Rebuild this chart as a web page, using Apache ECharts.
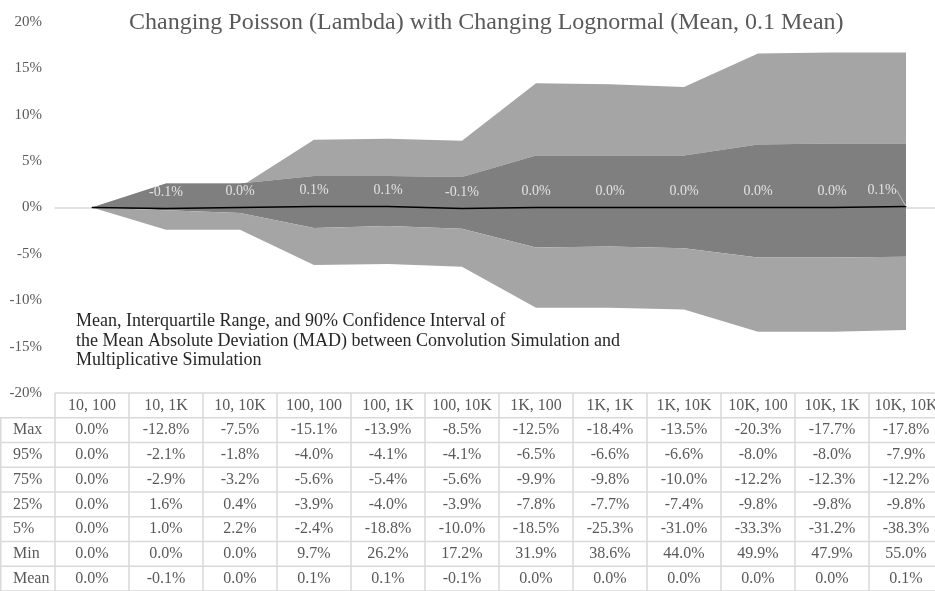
<!DOCTYPE html>
<html>
<head>
<meta charset="utf-8">
<title>Changing Poisson with Changing Lognormal</title>
<script src="https://cdn.jsdelivr.net/npm/echarts@6/dist/echarts.min.js"></script>
<style>
    html, body { margin: 0; padding: 0; background: #fff; overflow: hidden; }
    /* wider than the window: the last table column runs off the right edge */
    #chart { width: 950px; height: 591px; }
</style>
</head>
<body>
<div id="chart"></div>
<script>
var categories = ['10, 100', '10, 1K', '10, 10K', '100, 100', '100, 1K', '100, 10K', '1K, 100', '1K, 1K', '1K, 10K', '10K, 100', '10K, 1K', '10K, 10K'];
// rows of the data table (percent), same order as in the table
var rowNames = ['Max', '95%', '75%', '25%', '5%', 'Min', 'Mean'];
var maxRow = [0.0, -12.8, -7.5, -15.1, -13.9, -8.5, -12.5, -18.4, -13.5, -20.3, -17.7, -17.8];
var p95Row = [0.0, -2.1, -1.8, -4.0, -4.1, -4.1, -6.5, -6.6, -6.6, -8.0, -8.0, -7.9];
var p75Row = [0.0, -2.9, -3.2, -5.6, -5.4, -5.6, -9.9, -9.8, -10.0, -12.2, -12.3, -12.2];
var p25Row = [0.0, 1.6, 0.4, -3.9, -4.0, -3.9, -7.8, -7.7, -7.4, -9.8, -9.8, -9.8];
var p5Row = [0.0, 1.0, 2.2, -2.4, -18.8, -10.0, -18.5, -25.3, -31.0, -33.3, -31.2, -38.3];
var minRow = [0.0, 0.0, 0.0, 9.7, 26.2, 17.2, 31.9, 38.6, 44.0, 49.9, 47.9, 55.0];
var meanRow = [0.0, -0.1, 0.0, 0.1, 0.1, -0.1, 0.0, 0.0, 0.0, 0.0, 0.0, 0.1];
var yMin = -20, yMax = 20, yStep = 5;

var serif = "'Liberation Serif', 'DejaVu Serif', serif";
var light = '#a5a5a5', dark = '#7f7f7f';

// excel-style stacked area: Min first, then 5%, 25%, 75%, 95%, Max
function band(name, values, fill) {
    return {
        name: name,
        type: 'line',
        stack: 'mad',
        stackStrategy: 'all',
        data: values,
        symbol: 'none',
        silent: true,
        lineStyle: {opacity: 0},
        areaStyle: fill ? {color: fill, opacity: 1} : {opacity: 0},
        z: 2
    };
}

var chart = echarts.init(document.getElementById('chart'));

var option = {
    backgroundColor: '#ffffff',
    animation: false,
    title: {
        text: 'Changing Poisson (Lambda) with Changing Lognormal (Mean, 0.1 Mean)',
        left: 124,
        top: 6,
        textStyle: {fontFamily: serif, fontSize: 24, fontWeight: 'normal', color: '#595959'}
    },
    grid: {left: 55, top: 22, width: 888, height: 371},
    xAxis: {
        type: 'category',
        data: categories,
        boundaryGap: true,
        axisLine: {onZero: true, lineStyle: {color: '#d9d9d9', width: 1.5}},
        axisTick: {show: false},
        axisLabel: {show: false},
        z: 1
    },
    yAxis: {
        type: 'value',
        min: yMin,
        max: yMax,
        interval: yStep,
        splitLine: {show: false},
        axisLine: {show: false},
        axisTick: {show: false},
        axisLabel: {
            formatter: '{value}%',
            margin: 13,
            fontFamily: serif,
            fontSize: 15,
            color: '#595959'
        }
    },
    series: [
        band('Min', minRow, null),
        band('5%', p5Row, null),
        band('25%', p25Row, light),
        band('75%', p75Row, dark),
        band('95%', p95Row, light),
        band('Max', maxRow, null),
        {
            name: 'Mean',
            type: 'line',
            data: meanRow.map(function (v, i) {
                var item = {value: v};
                if (i === 0) item.label = {show: false};
                if (i === meanRow.length - 1) item.labelLine = {show: true};
                return item;
            }),
            symbol: 'circle',
            symbolSize: 1,
            showSymbol: true,
            itemStyle: {color: '#000000'},
            silent: true,
            z: 5,
            lineStyle: {color: '#000000', width: 1.5},
            label: {
                show: true,
                position: 'top',
                distance: 9,
                fontFamily: serif,
                fontSize: 14,
                color: '#e2e2e2',
                formatter: function (p) { return p.value.toFixed(1) + '%'; }
            },
            labelLine: {show: false, lineStyle: {color: '#bfbfbf', width: 1}},
            labelLayout: function (p) {
                if (p.dataIndex === meanRow.length - 1) return {dx: -24, dy: 0};
            }
        }
    ],
    graphic: [{
        type: 'text',
        left: 76,
        top: 312,
        style: {
            text: 'Mean, Interquartile Range, and 90% Confidence Interval of\nthe Mean Absolute Deviation (MAD) between Convolution Simulation and\nMultiplicative Simulation',
            fontFamily: serif,
            fontSize: 18,
            lineHeight: 19.5,
            fill: '#262626'
        }
    }]
};
chart.setOption(option);

// data table under the plot, columns lined up with the category axis
function drawTable() {
    var rows = [maxRow, p95Row, p75Row, p25Row, p5Row, minRow, meanRow];
    var top = 393, rowH = 24.75;
    var c0 = chart.convertToPixel({xAxisIndex: 0}, categories[0]);
    var c1 = chart.convertToPixel({xAxisIndex: 0}, categories[1]);
    var colW = c1 - c0;
    var xLeft = c0 - colW / 2;
    var xRight = xLeft + colW * categories.length;
    var bottom = top + rowH * (rows.length + 1);
    var els = [];
    var lineStyle = {stroke: '#d9d9d9', lineWidth: 1.5};
    var txt = {fontFamily: serif, fontSize: 16, fill: '#595959'};

    for (var r = 0; r <= rows.length + 1; r++) {
        var y = top + r * rowH;
        els.push({type: 'line', silent: true, shape: {x1: r === 0 ? xLeft : 0, y1: y, x2: xRight, y2: y}, style: lineStyle});
    }
    els.push({type: 'line', silent: true, shape: {x1: 0.75, y1: top + rowH, x2: 0.75, y2: bottom}, style: lineStyle});
    for (var c = 0; c <= categories.length; c++) {
        var x = xLeft + c * colW;
        els.push({type: 'line', silent: true, shape: {x1: x, y1: top, x2: x, y2: bottom}, style: lineStyle});
    }
    categories.forEach(function (name, i) {
        var cx = chart.convertToPixel({xAxisIndex: 0}, name);
        els.push({type: 'text', silent: true, x: cx, y: top + rowH / 2,
            style: Object.assign({text: name, align: 'center', verticalAlign: 'middle'}, txt)});
        rows.forEach(function (vals, r) {
            els.push({type: 'text', silent: true, x: cx, y: top + rowH * (r + 1.5),
                style: Object.assign({text: vals[i].toFixed(1) + '%', align: 'center', verticalAlign: 'middle'}, txt)});
        });
    });
    rowNames.forEach(function (name, r) {
        els.push({type: 'text', silent: true, x: 13, y: top + rowH * (r + 1.5),
            style: Object.assign({text: name, align: 'left', verticalAlign: 'middle'}, txt)});
    });

    var g = option.graphic.slice();
    g.push({type: 'group', children: els});
    chart.setOption({graphic: g});
}
drawTable();
</script>
</body>
</html>
